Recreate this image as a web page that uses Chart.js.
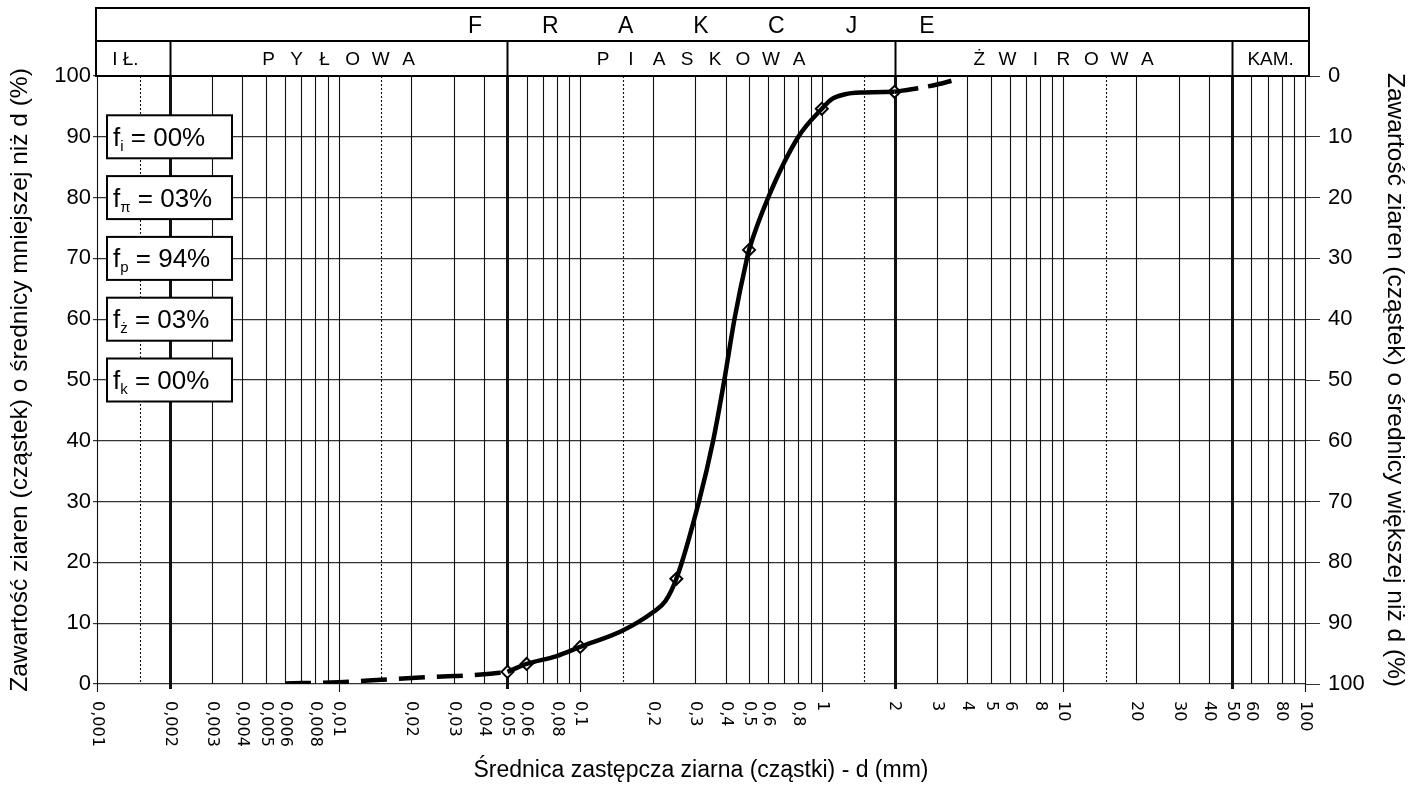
<!DOCTYPE html>
<html>
<head>
<meta charset="utf-8">
<script src="https://cdn.jsdelivr.net/npm/chart.js@4.4.0/dist/chart.umd.min.js"></script>
<style>
    html, body { margin: 0; padding: 0; background: #fff; }
</style>
</head>
<body>
<canvas id="sieve" width="1418" height="786"></canvas>
<script>
// krzywa uziarnienia - odczyt z wykresu
const curveD = [0.05, 0.06, 0.08, 0.1, 0.15, 0.2, 0.225, 0.25, 0.31, 0.355, 0.395, 0.435, 0.49, 0.5, 0.6, 0.8, 1, 1.1, 1.25, 1.5, 2];
const curveP = [2.0, 3.3, 4.6, 6.1, 8.8, 11.8, 13.6, 17.3, 30, 40, 50, 60, 70, 71.4, 80, 90, 94.6, 96.2, 97.0, 97.3, 97.4];

const measD = [0.05, 0.06, 0.1, 0.25, 0.5, 1, 2];
const measP = [2.0, 3.3, 6.1, 17.3, 71.4, 94.6, 97.4];

const fineD = [0.006, 0.01, 0.015, 0.02, 0.03, 0.04, 0.05];
const fineP = [0.1, 0.3, 0.7, 1.0, 1.3, 1.6, 2.0];

const coarseD = [2, 2.5, 3, 3.5];
const coarseP = [97.4, 98.0, 98.6, 99.3];

const xTicks = [0.001, 0.002, 0.003, 0.004, 0.005, 0.006, 0.008, 0.01, 0.02, 0.03, 0.04, 0.05, 0.06, 0.08, 0.1,
    0.2, 0.3, 0.4, 0.5, 0.6, 0.8, 1, 2, 3, 4, 5, 6, 8, 10, 20, 30, 40, 50, 60, 80, 100];
const xTickLabels = ['0,001', '0,002', '0,003', '0,004', '0,005', '0,006', '0,008', '0,01', '0,02', '0,03', '0,04', '0,05',
    '0,06', '0,08', '0,1', '0,2', '0,3', '0,4', '0,5', '0,6', '0,8', '1', '2', '3', '4', '5', '6', '8', '10', '20', '30',
    '40', '50', '60', '80', '100'];

const fractionNames = ['IŁ.', 'PYŁOWA', 'PIASKOWA', 'ŻWIROWA', 'KAM.'];
const fractionBounds = [0.001, 0.002, 0.05, 2, 50, 100];

const fracSub = ['i', 'π', 'p', 'ż', 'k'];
const fracVal = ['00', '03', '94', '03', '00'];

const pairs = (xs, ys) => xs.map((v, i) => ({ x: v, y: ys[i] }));

const LINE = '"Liberation Sans", Arial, sans-serif';
const DIGITS = '"DejaVu Sans", sans-serif';

function drawSpaced(ctx, text, cx, y, step) {
    const n = text.length;
    for (let i = 0; i < n; i++) {
        ctx.fillText(text[i], cx + (i - (n - 1) / 2) * step, y);
    }
}

const paperPlugin = {
    id: 'paper',
    beforeDatasetsDraw(chart) {
        const { ctx, chartArea: a, scales: { x } } = chart;
        ctx.save();
        const lines = [];
        for (let e = -3; e <= 1; e++) {
            for (let m = 1; m <= 9; m++) lines.push({ v: m * Math.pow(10, e), dot: false });
            lines.push({ v: 1.5 * Math.pow(10, e), dot: true });
        }
        lines.push({ v: 100, dot: false });
        lines.forEach(l => {
            const px = Math.round(x.getPixelForValue(l.v)) + 0.5;
            const thick = fractionBounds.slice(1, -1).some(b => Math.abs(b - l.v) / b < 1e-6);
            const decade = Math.abs(Math.log10(l.v) - Math.round(Math.log10(l.v))) < 1e-6;
            ctx.beginPath();
            ctx.strokeStyle = '#111';
            ctx.lineWidth = thick ? 3 : 1.1;
            ctx.setLineDash(l.dot ? [2, 2] : []);
            ctx.moveTo(px, a.top);
            ctx.lineTo(px, a.bottom + (thick ? 5 : decade ? 8 : 0));
            ctx.stroke();
        });
        ctx.restore();
    },
    afterDraw(chart) {
        const { ctx, chartArea: a, scales: { x, y } } = chart;
        ctx.save();
        ctx.fillStyle = '#000';
        ctx.strokeStyle = '#000';

        // naglowek frakcji
        const top = 8, mid = 41;
        ctx.lineWidth = 2;
        ctx.strokeRect(a.left - 1, top, a.right - a.left + 5, a.top - top);
        ctx.beginPath();
        ctx.moveTo(a.left - 1, mid);
        ctx.lineTo(a.right + 4, mid);
        ctx.stroke();
        ctx.font = '23px ' + LINE;
        ctx.textAlign = 'center';
        ctx.textBaseline = 'alphabetic';
        drawSpaced(ctx, 'FRAKCJE', (a.left + a.right) / 2, 33, 75.3);

        ctx.font = '19px ' + LINE;
        for (let i = 0; i < fractionNames.length; i++) {
            const x0 = i === 0 ? a.left : x.getPixelForValue(fractionBounds[i]);
            const x1 = i === fractionNames.length - 1 ? a.right + 4 : x.getPixelForValue(fractionBounds[i + 1]);
            if (i > 0) {
                ctx.beginPath();
                ctx.moveTo(Math.round(x0) + 0.5, mid);
                ctx.lineTo(Math.round(x0) + 0.5, a.top);
                ctx.stroke();
            }
            const name = fractionNames[i];
            const cx = (x0 + x1) / 2;
            if (name === 'KAM.') ctx.fillText(name, cx, 65);
            else if (name === 'IŁ.') ctx.fillText('I Ł.', cx - 8, 65);
            else drawSpaced(ctx, name, cx, 65, 28);
        }

        // ramki z zawartoscia frakcji
        fracSub.forEach((s, i) => {
            const cy = y.getPixelForValue(90 - i * 10);
            const bx = a.left + 10, bw = 125, bh = 43;
            ctx.fillStyle = '#fff';
            ctx.fillRect(bx, cy - bh / 2, bw, bh);
            ctx.lineWidth = 2;
            ctx.strokeRect(bx, cy - bh / 2, bw, bh);
            ctx.fillStyle = '#000';
            ctx.textAlign = 'left';
            let tx = bx + 6;
            const by = cy + 9;
            ctx.font = '26px ' + LINE;
            ctx.fillText('f', tx, by);
            tx += ctx.measureText('f').width;
            ctx.font = '15px ' + LINE;
            ctx.fillText(s, tx, by + 5);
            tx += ctx.measureText(s).width;
            ctx.font = '26px ' + LINE;
            ctx.fillText(' = ' + fracVal[i] + '%', tx, by);
        });

        // opisy osi x (pionowo)
        ctx.font = '16px ' + DIGITS;
        ctx.textAlign = 'left';
        ctx.textBaseline = 'middle';
        xTicks.forEach((v, i) => {
            ctx.save();
            ctx.translate(x.getPixelForValue(v), a.bottom + 17);
            ctx.rotate(Math.PI / 2);
            ctx.fillText(xTickLabels[i], 0, 0);
            ctx.restore();
        });
        ctx.restore();
    }
};

new Chart(document.getElementById('sieve'), {
    type: 'line',
    data: {
        datasets: [
            {
                data: pairs(curveD, curveP),
                borderColor: '#000',
                borderWidth: 4.5,
                pointRadius: 0,
                cubicInterpolationMode: 'monotone',
                yAxisID: 'y'
            },
            {
                data: pairs(fineD, fineP),
                borderColor: '#000',
                borderWidth: 4.5,
                borderDash: [26, 12],
                pointRadius: 0,
                cubicInterpolationMode: 'monotone',
                yAxisID: 'y'
            },
            {
                data: pairs(coarseD, coarseP),
                borderColor: '#000',
                borderWidth: 4.5,
                borderDash: [24, 10],
                pointRadius: 0,
                cubicInterpolationMode: 'monotone',
                yAxisID: 'y'
            },
            {
                data: pairs(measD, measP),
                showLine: false,
                pointStyle: 'rectRot',
                pointRadius: 6,
                pointBorderWidth: 2,
                pointBorderColor: '#000',
                pointBackgroundColor: '#fff',
                yAxisID: 'y'
            }
        ]
    },
    options: {
        responsive: false,
        animation: false,
        layout: { padding: { top: 76, left: 0, right: 0, bottom: 0 } },
        plugins: {
            legend: { display: false },
            tooltip: { enabled: false }
        },
        scales: {
            x: {
                type: 'logarithmic',
                min: 0.001,
                max: 100,
                grid: { display: false },
                border: { display: false },
                ticks: { display: false },
                title: {
                    display: true,
                    text: 'Średnica zastępcza ziarna (cząstki) - d (mm)',
                    color: '#000',
                    font: { family: LINE, size: 23 },
                    padding: { top: 0, bottom: 2 }
                },
                afterFit(s) { s.height = 102; }
            },
            y: {
                position: 'left',
                min: 0,
                max: 100,
                ticks: { stepSize: 10, color: '#000', font: { family: LINE, size: 22 }, padding: 2 },
                grid: { color: '#333', lineWidth: 1.2, tickLength: 4 },
                border: { display: false },
                title: {
                    display: true,
                    text: 'Zawartość ziaren (cząstek) o średnicy mniejszej niż d (%)',
                    color: '#000',
                    font: { family: LINE, size: 24.5 },
                    padding: { top: 6, bottom: 0 }
                },
                afterFit(s) { s.width = 97; }
            },
            y2: {
                position: 'right',
                min: 0,
                max: 100,
                reverse: true,
                ticks: { stepSize: 10, color: '#000', font: { family: LINE, size: 22 }, padding: 8 },
                grid: { drawOnChartArea: false, color: '#333', tickLength: 15 },
                border: { display: false },
                title: {
                    display: true,
                    text: 'Zawartość ziaren (cząstek) o średnicy większej niż d (%)',
                    color: '#000',
                    font: { family: LINE, size: 24.5 },
                    padding: { top: 9, bottom: 0 }
                },
                afterFit(s) { s.width = 113; }
            }
        }
    },
    plugins: [paperPlugin]
});
</script>
</body>
</html>
